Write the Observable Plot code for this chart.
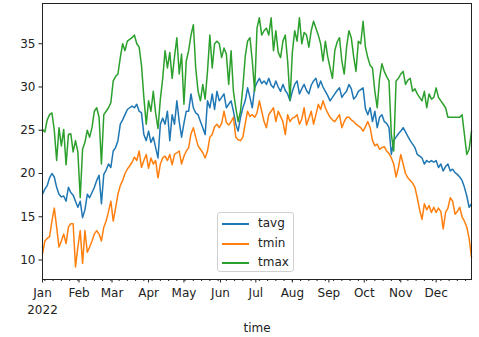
<!DOCTYPE html>
<html><head><meta charset="utf-8">
<script src="https://cdn.jsdelivr.net/npm/d3@7"></script>
<script src="https://cdn.jsdelivr.net/npm/@observablehq/plot@0.6"></script>
<style>
body{margin:0;background:#fff;}
#wrap{position:relative;width:479px;height:337px;font-family:"DejaVu Sans",sans-serif;}
#legend{position:absolute;left:217px;top:212px;width:77px;height:60px;box-sizing:border-box;border:1px solid #d0d0d0;border-radius:3px;background:rgba(255,255,255,0.85);font-size:12px;color:#222;}
.item{position:absolute;left:0;height:14px;}
.item .sw{position:absolute;left:4px;top:6px;width:27px;height:2px;}
.item .lb{position:absolute;left:40px;top:-1px;line-height:14px;}
</style></head><body><div id="wrap"><div id="legend"></div></div>
<script>
// daily weather, sampled every 2 days starting 2022-01-01
const startYear = 2022;
const stepDays = 2;
const tavg = [
17.6,18.2,18.6,19.5,20.0,19.6,18.4,17.6,17.3,17.4,
16.8,18.4,17.8,17.5,16.8,16.1,16.8,14.9,15.8,17.6,
17.2,17.8,18.4,19.2,19.8,16.5,19.9,20.4,21.1,20.7,
22.6,23.0,23.8,25.7,26.2,26.8,27.4,27.6,27.8,27.6,
28.0,27.2,27.0,24.5,23.8,24.9,23.6,24.2,23.0,21.8,
25.7,26.4,25.7,27.2,23.8,26.8,25.7,28.4,26.0,24.2,
25.8,27.2,27.2,29.2,27.6,27.0,26.8,26.0,25.3,24.5,
28.4,27.6,29.2,27.4,29.5,28.4,28.8,29.2,27.6,28.0,
28.4,27.2,25.7,24.9,26.5,27.6,28.4,29.9,28.8,27.6,
29.9,30.5,31.0,30.4,30.7,30.3,31.0,30.2,29.9,30.7,
30.0,29.5,30.3,29.6,29.2,28.4,29.5,30.3,30.7,29.2,
29.8,30.3,29.6,29.2,30.2,30.7,31.0,29.9,30.7,30.0,
29.5,29.0,28.4,28.8,29.2,29.6,29.9,28.8,29.2,29.5,
30.3,29.8,28.6,28.9,29.5,29.7,29.9,27.5,26.8,27.6,
26.0,27.2,25.3,26.5,26.8,26.0,25.8,25.3,22.2,23.8,
24.2,24.6,24.9,25.3,24.8,24.3,23.8,23.4,23.0,22.2,
22.0,21.8,21.1,21.5,21.3,21.5,21.3,21.5,20.7,21.1,
20.3,20.8,21.1,20.3,20.5,20.1,19.9,19.6,19.2,18.4,
17.4,16.1,16.5];
const tmin = [
10.7,12.2,12.5,12.7,14.5,16.0,13.8,11.5,12.2,13.0,
11.9,13.8,14.2,14.2,9.2,11.5,13.4,9.6,13.4,10.9,
11.5,12.2,13.0,13.4,13.0,12.2,13.8,14.5,15.6,16.8,
14.5,16.0,17.6,18.6,19.2,20.0,20.5,20.9,21.3,21.9,
21.5,22.6,20.7,21.5,22.2,20.6,21.8,21.1,21.5,19.5,
21.1,21.8,22.0,21.5,22.2,21.0,22.2,22.4,22.6,21.1,
22.0,22.6,23.0,24.6,25.3,24.2,23.2,22.8,22.4,21.8,
22.6,24.2,24.5,25.4,25.7,25.3,25.8,27.2,25.9,25.6,
26.0,26.5,24.2,23.9,23.8,24.2,25.8,27.2,26.6,26.8,
26.5,27.0,28.4,27.2,26.0,25.3,26.8,27.2,27.6,26.0,
27.2,26.6,26.0,24.5,26.8,26.0,26.4,26.5,26.8,25.7,
26.3,27.6,25.6,26.4,27.2,25.7,26.8,28.0,27.4,28.4,
27.6,27.0,26.5,26.2,26.0,26.4,26.8,25.3,26.0,26.5,
26.5,26.2,26.0,25.7,25.5,25.3,24.9,25.4,26.0,25.3,
23.8,23.2,23.4,22.8,23.0,23.1,22.6,22.3,21.8,21.1,
19.6,20.7,22.2,21.1,20.0,19.5,19.2,18.9,18.4,17.2,
15.8,14.7,16.5,15.8,16.3,15.5,16.1,15.5,16.0,15.6,
13.6,15.5,16.0,17.2,16.8,15.3,15.6,16.1,15.0,14.5,
13.8,12.5,10.3];
const tmax = [
25.1,24.8,26.2,26.8,27.0,25.0,21.5,25.3,23.2,25.1,
21.0,24.5,24.6,22.5,23.8,22.5,17.2,22.8,23.6,25.0,
24.2,25.3,27.2,27.6,26.5,21.1,26.8,27.2,27.6,28.2,
30.7,31.2,31.5,33.4,35.0,34.2,35.3,35.5,35.7,36.0,
35.0,34.6,32.5,28.8,25.7,28.4,27.2,29.5,27.0,25.2,
28.6,31.0,34.2,32.2,34.0,31.0,33.5,35.7,31.5,33.8,
28.0,33.0,34.2,36.0,37.2,32.2,29.5,28.4,30.3,28.6,
31.8,36.0,32.2,35.0,35.3,35.0,33.4,34.5,33.8,30.3,
34.2,29.5,27.6,26.0,27.2,30.0,33.5,35.3,35.7,33.0,
29.5,36.8,38.0,36.0,36.5,36.8,36.0,38.0,34.2,36.5,
34.0,33.4,35.3,36.0,33.0,28.5,34.0,36.5,35.3,38.0,
35.0,36.3,36.0,34.6,36.5,37.6,36.8,36.0,35.0,33.0,
35.3,33.5,32.2,31.0,34.2,35.2,35.7,33.0,31.5,34.6,
36.5,35.7,33.5,31.8,35.3,35.0,37.6,34.6,33.4,32.5,
32.2,29.5,27.6,31.0,32.7,31.8,31.2,30.7,24.5,22.6,
30.7,31.0,31.5,31.8,30.3,30.8,31.0,29.5,29.8,29.2,
28.8,28.4,29.5,27.6,29.2,28.6,28.8,29.9,28.8,28.4,
28.0,27.6,26.5,26.5,26.5,26.5,26.5,26.5,26.8,24.5,
22.2,22.8,24.9];
const seriesNames = ["tavg", "tmin", "tmax"];
const seriesColors = ["#1f77b4", "#ff7f0e", "#2ca02c"];
const monthLabels = ["Jan","Feb","Mar","Apr","May","Jun","Jul","Aug","Sep","Oct","Nov","Dec"];
const yearLabel = "2022";
const xLabel = "time";
const yTicks = [10, 15, 20, 25, 30, 35];

const seriesValues = [tavg, tmin, tmax];
const dates = tavg.map((_, i) => new Date(Date.UTC(startYear, 0, 1 + stepDays * i)));
const rows = [];
seriesNames.forEach((name, k) => {
  seriesValues[k].forEach((v, i) => rows.push({time: dates[i], value: v, series: name}));
});
const x0 = new Date(Date.UTC(startYear, 0, 1));
const x1 = new Date(Date.UTC(startYear, 11, 31));
const monthTicks = d3.range(12).map(m => new Date(Date.UTC(startYear, m, 1)));
const weekTicks = d3.utcMonday.range(x0, new Date(Date.UTC(startYear, 11, 31, 1)));

const chart = Plot.plot({
  width: 479, height: 337,
  marginLeft: 42, marginRight: 8, marginTop: 3, marginBottom: 58,
  style: {fontFamily: "'DejaVu Sans', sans-serif", fontSize: "12px", color: "#222", background: "#fff"},
  x: {type: "utc", domain: [x0, x1]},
  y: {domain: [7.75, 39.65]},
  color: {domain: seriesNames, range: seriesColors},
  marks: [
    Plot.lineY(rows, {x: "time", y: "value", z: "series", stroke: "series", strokeWidth: 1.5}),
    Plot.frame({stroke: "#222", strokeWidth: 1}),
    Plot.axisY({ticks: yTicks, tickSize: 3.5, tickPadding: 3.5, label: null, fontSize: 12}),
    Plot.axisX({ticks: weekTicks, tickSize: 2, tickFormat: () => "", label: null}),
    Plot.axisX({ticks: monthTicks, tickSize: 3.5, tickPadding: 5, tickFormat: d => monthLabels[d.getUTCMonth()], label: null, fontSize: 12}),
    Plot.text([yearLabel], {x: () => x0, text: d => d, frameAnchor: "bottom", lineAnchor: "middle", dy: 31, fontSize: 12, fill: "#222"}),
    Plot.text([xLabel], {text: d => d, frameAnchor: "bottom", lineAnchor: "middle", dy: 49, fontSize: 12, fill: "#222"})
  ]
});
document.getElementById("wrap").prepend(chart);

const legend = document.getElementById("legend");
seriesNames.forEach((name, k) => {
  const it = document.createElement("div");
  it.className = "item";
  it.style.top = (4 + k * 19.5) + "px";
  it.innerHTML = `<span class="sw" style="background:${seriesColors[k]}"></span><span class="lb">${name}</span>`;
  legend.appendChild(it);
});
</script></body></html>
